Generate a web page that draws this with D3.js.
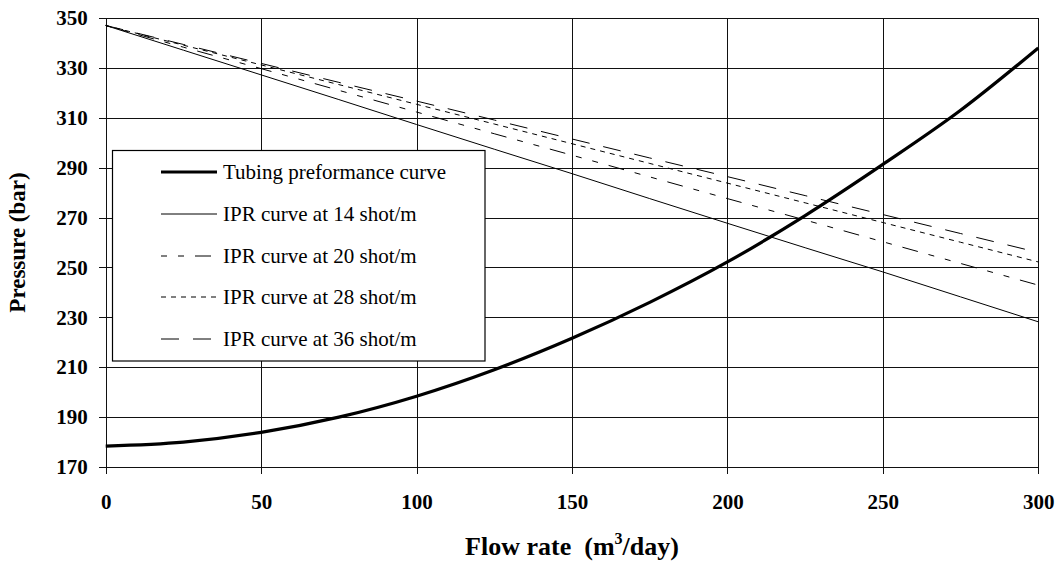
<!DOCTYPE html>
<html>
<head>
<meta charset="utf-8">
<script src="https://cdn.jsdelivr.net/npm/d3@7/dist/d3.min.js"></script>
<style>
  html, body { margin: 0; padding: 0; background: #fff; }
  svg { display: block; }
</style>
</head>
<body>
<svg id="chart" width="1058" height="563"></svg>
<script>
// ---- data ----
const flowRates = [0, 25, 50, 75, 100, 125, 150, 175, 200, 225, 250, 275, 300];
const tubing    = [178.4, 180, 183.9, 190, 198.4, 209, 221.6, 236, 252.2, 270.8, 291.3, 313, 338];
const ipr14     = [347, 337.1, 327.2, 317.3, 307.3, 297.4, 287.6, 277.6, 267.7, 257.9, 248.2, 238.2, 228.2];
const ipr20     = [347, 338.3, 329.7, 321, 312.3, 303.6, 295, 286.3, 277.6, 269, 260.3, 251.6, 242.9];
const ipr28     = [347, 339.1, 331.2, 323.3, 315.4, 307.5, 299.6, 291.7, 283.8, 275.9, 268, 260.1, 252.2];
const ipr36     = [347, 339.4, 331.8, 324.2, 316.7, 309.1, 301.5, 293.9, 286.4, 278.8, 271.2, 263.6, 256];
const xTicks = [0, 50, 100, 150, 200, 250, 300];
const yTicks = [170, 190, 210, 230, 250, 270, 290, 310, 330, 350];
const seriesNames = ["Tubing preformance curve", "IPR curve at 14 shot/m", "IPR curve at 20 shot/m", "IPR curve at 28 shot/m", "IPR curve at 36 shot/m"];

const series = [
  { name: seriesNames[0], values: tubing, width: 3.2, dash: null },
  { name: seriesNames[1], values: ipr14, width: 1, dash: null },
  { name: seriesNames[2], values: ipr20, width: 1, dash: "6,11,6,11,16,11" },
  { name: seriesNames[3], values: ipr28, width: 1, dash: "5,5" },
  { name: seriesNames[4], values: ipr36, width: 1, dash: "18,14" }
];

const FONT = "'Liberation Serif'";
const svg = d3.select("#chart");
const pLeft = 105.7, pRight = 1038.3, pTop = 18, pBottom = 467;

const x = d3.scaleLinear().domain([0, 300]).range([pLeft, pRight]);
const y = d3.scaleLinear().domain([170, 350]).range([pBottom, pTop]);

// grid
const grid = svg.append("g").attr("shape-rendering", "crispEdges");
grid.selectAll("line.h").data(yTicks).join("line")
  .attr("x1", pLeft - 7).attr("x2", pRight)
  .attr("y1", d => Math.round(y(d)) + 0.5).attr("y2", d => Math.round(y(d)) + 0.5)
  .attr("stroke", "#111").attr("stroke-width", 1.2);
grid.selectAll("line.v").data(xTicks).join("line")
  .attr("y1", pTop).attr("y2", pBottom + 7)
  .attr("x1", d => Math.round(x(d)) + 0.5).attr("x2", d => Math.round(x(d)) + 0.5)
  .attr("stroke", "#111").attr("stroke-width", 1.2);

// axis labels
const yAxis = d3.axisLeft(y).tickValues(yTicks).tickSize(0).tickPadding(18);
const gy = svg.append("g").attr("transform", `translate(${pLeft},0)`).call(yAxis);
gy.select(".domain").remove();
gy.selectAll("text").style("font-family", FONT).style("font-size", "21px")
  .style("font-weight", "bold").attr("fill", "#000");

const xAxis = d3.axisBottom(x).tickValues(xTicks).tickSize(0).tickPadding(27);
const gx = svg.append("g").attr("transform", `translate(0,${pBottom})`).call(xAxis);
gx.select(".domain").remove();
gx.selectAll("text").style("font-family", FONT).style("font-size", "21px")
  .style("font-weight", "bold").attr("fill", "#000");

// lines
const line = d3.line().x((d, i) => x(flowRates[i])).y(d => y(d)).curve(d3.curveMonotoneX);
svg.append("g").selectAll("path").data(series).join("path")
  .attr("d", d => line(d.values))
  .attr("fill", "none").attr("stroke", "#000")
  .attr("stroke-width", d => d.width)
  .attr("stroke-dasharray", d => d.dash);

// legend
const lg = svg.append("g");
lg.append("rect").attr("x", 112.5).attr("y", 150.5).attr("width", 372.5).attr("height", 210.5)
  .attr("fill", "#fff").attr("stroke", "#000").attr("stroke-width", 1.2);
const itemY = [172, 214, 256, 297, 339];
const items = lg.selectAll("g.item").data(series).join("g")
  .attr("transform", (d, i) => `translate(0,${itemY[i]})`);
items.append("line").attr("x1", 161).attr("x2", 217).attr("y1", 0).attr("y2", 0)
  .attr("stroke", "#000").attr("stroke-width", d => d.width)
  .attr("stroke-dasharray", d => d.dash);
items.append("text").attr("x", 223).attr("y", 0).attr("dy", "0.35em")
  .style("font-family", FONT).style("font-size", "21px").attr("fill", "#000")
  .text(d => d.name);

// axis titles
const xt = svg.append("text").attr("x", (pLeft + pRight) / 2).attr("y", 555)
  .style("font-family", FONT).style("font-size", "26px").style("font-weight", "bold")
  .attr("text-anchor", "middle").attr("fill", "#000");
xt.append("tspan").text("Flow rate\u00a0\u00a0(m");
xt.append("tspan").style("font-size", "16px").attr("dy", -11).text("3");
xt.append("tspan").attr("dy", 11).text("/day)");

svg.append("text")
  .attr("transform", `translate(25,${(pTop + pBottom) / 2}) rotate(-90)`)
  .style("font-family", FONT).style("font-size", "23px").style("font-weight", "bold")
  .attr("text-anchor", "middle").attr("fill", "#000")
  .text("Pressure (bar)");
</script>
</body>
</html>
